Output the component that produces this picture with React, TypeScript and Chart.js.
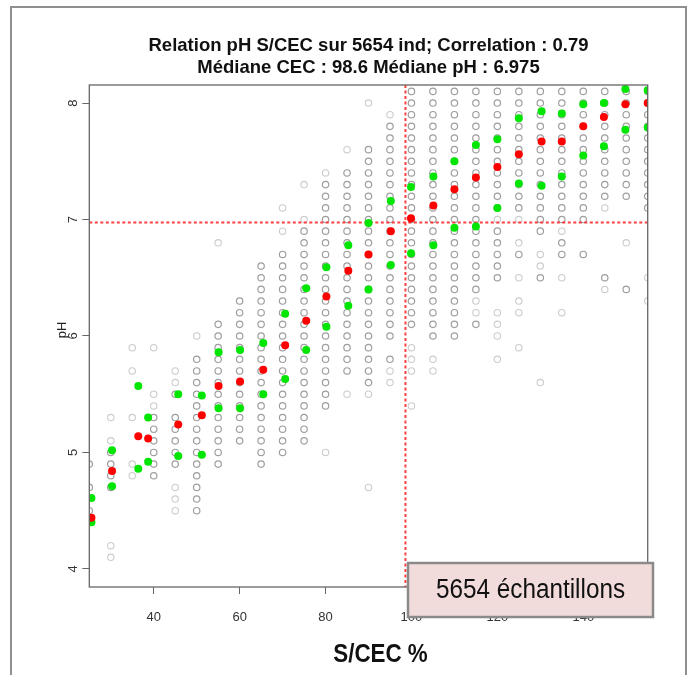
import React, { useEffect, useRef } from "react";
import { Chart, registerables } from "chart.js";

Chart.register(...registerables);

// ---------- data ----------
const sampleCount = 5654;
const correlation = 0.79;
const medianCEC = 98.6;
const medianPH = 6.975;

const xTickValues = [40, 60, 80, 100, 120, 140];
const yTickValues = [4, 5, 6, 7, 8];

// S/CEC classes (%) of the observation grid
const sCecClasses = [25, 30, 35, 40, 45, 50, 55, 60, 65, 70, 75, 80, 85, 90, 95, 100, 105, 110, 115, 120, 125, 130, 135, 140, 145, 150, 155];

// pH values observed in each S/CEC class (frequent cells)
const phObserved: number[][] = [
  [4.9, 4.7, 4.5, 4.4],
  [5.0, 4.9, 4.8, 4.7],
  [],
  [5.3, 5.2, 5.1, 5.0, 4.9, 4.8],
  [5.5, 5.3, 5.2, 5.1, 5.0, 4.9],
  [5.8, 5.7, 5.6, 5.5, 5.4, 5.3, 5.2, 5.1, 5.0, 4.9, 4.8, 4.7, 4.6, 4.5],
  [6.1, 6.0, 5.9, 5.8, 5.7, 5.6, 5.5, 5.4, 5.3, 5.2, 5.1, 5.0, 4.9],
  [6.3, 6.2, 6.1, 6.0, 5.9, 5.8, 5.7, 5.6, 5.5, 5.4, 5.3, 5.2, 5.1],
  [6.6, 6.5, 6.4, 6.3, 6.2, 6.1, 6.0, 5.9, 5.8, 5.7, 5.6, 5.5, 5.4, 5.3, 5.2, 5.1, 5.0, 4.9],
  [6.7, 6.6, 6.5, 6.4, 6.3, 6.2, 6.1, 6.0, 5.9, 5.8, 5.7, 5.6, 5.5, 5.4, 5.3, 5.2, 5.1, 5.0],
  [6.9, 6.8, 6.7, 6.6, 6.5, 6.4, 6.3, 6.2, 6.1, 6.0, 5.9, 5.8, 5.7, 5.6, 5.5, 5.4, 5.3, 5.2, 5.1],
  [7.3, 7.2, 7.1, 7.0, 6.9, 6.8, 6.7, 6.6, 6.5, 6.4, 6.3, 6.2, 6.1, 6.0, 5.9, 5.8, 5.7, 5.6, 5.5, 5.4],
  [7.4, 7.3, 7.2, 7.1, 7.0, 6.9, 6.8, 6.7, 6.6, 6.5, 6.4, 6.3, 6.2, 6.1, 6.0, 5.9, 5.8, 5.7],
  [7.6, 7.5, 7.4, 7.3, 7.2, 7.1, 7.0, 6.9, 6.8, 6.7, 6.6, 6.5, 6.4, 6.3, 6.2, 6.1, 6.0, 5.9, 5.8, 5.7, 5.6],
  [7.8, 7.7, 7.6, 7.5, 7.4, 7.3, 7.2, 7.1, 7.0, 6.9, 6.8, 6.7, 6.6, 6.5, 6.4, 6.3, 6.2, 6.1, 6.0, 5.8],
  [8.1, 8.0, 7.9, 7.8, 7.7, 7.6, 7.5, 7.4, 7.3, 7.2, 7.1, 7.0, 6.9, 6.8, 6.7, 6.6, 6.5, 6.4, 6.3, 6.2, 6.1],
  [8.1, 8.0, 7.9, 7.8, 7.7, 7.6, 7.5, 7.4, 7.3, 7.2, 7.1, 7.0, 6.9, 6.8, 6.7, 6.6, 6.5, 6.4, 6.3, 6.2, 6.1, 6.0],
  [8.1, 8.0, 7.9, 7.8, 7.7, 7.6, 7.5, 7.4, 7.3, 7.2, 7.1, 7.0, 6.9, 6.8, 6.7, 6.6, 6.5, 6.4, 6.3, 6.2, 6.1, 6.0],
  [8.1, 8.0, 7.9, 7.8, 7.7, 7.6, 7.5, 7.4, 7.3, 7.2, 7.1, 7.0, 6.9, 6.8, 6.7, 6.6, 6.5, 6.4, 6.1],
  [8.1, 8.0, 7.9, 7.8, 7.7, 7.6, 7.5, 7.4, 7.3, 7.2, 7.1, 6.9, 6.8, 6.7, 6.6, 6.5],
  [8.1, 8.0, 7.9, 7.8, 7.7, 7.6, 7.5, 7.4, 7.3, 7.2, 7.1, 6.7],
  [8.1, 8.0, 7.9, 7.8, 7.7, 7.6, 7.5, 7.4, 7.3, 7.2, 7.1, 7.0, 6.9, 6.5],
  [8.1, 8.0, 7.9, 7.8, 7.7, 7.6, 7.5, 7.4, 7.3, 7.2, 7.1, 7.0, 6.8, 6.7],
  [8.1, 8.0, 7.9, 7.8, 7.7, 7.6, 7.5, 7.4, 7.3, 7.2, 7.1, 7.0, 6.7],
  [8.1, 8.0, 7.9, 7.8, 7.7, 7.6, 7.5, 7.4, 7.3, 7.2, 6.5],
  [8.1, 8.0, 7.9, 7.8, 7.7, 7.6, 7.5, 7.4, 7.3, 7.2, 6.4],
  [8.1, 8.0, 7.9, 7.8, 7.7, 7.6, 7.5, 7.4, 7.3, 7.2, 7.1],
];

// pH values observed rarely in each S/CEC class (faint cells)
const phRare: number[][] = [
  [],
  [5.3, 5.1, 4.2, 4.1],
  [5.9, 5.7, 5.3, 4.9, 4.8],
  [5.9, 5.5, 5.4],
  [5.7, 5.6, 4.7, 4.6, 4.5],
  [6.0],
  [6.8],
  [],
  [],
  [7.1, 6.9],
  [7.3, 7.0],
  [7.4, 5.0],
  [7.6, 5.5],
  [8.0, 5.5, 4.7],
  [7.9, 5.7, 5.6],
  [5.9, 5.8, 5.7, 5.4],
  [5.8, 5.7],
  [],
  [6.3, 6.2],
  [7.0, 6.2, 6.1, 6.0, 5.8],
  [7.0, 6.8, 6.5, 6.3, 6.2, 5.9],
  [6.7, 6.6, 5.6],
  [6.9, 6.5, 6.2],
  [],
  [7.1, 6.4],
  [6.8],
  [6.5, 6.3],
];

// per-class statistics (mean S/CEC of the class, median and quartiles of pH)
const statSCec = [25.5, 30.3, 36.4, 38.7, 45.7, 51.2, 55.1, 60.1, 65.5, 70.6, 75.5, 80.2, 85.3, 90.0, 95.2, 99.9, 105.1, 110, 115, 120, 125, 130.3, 135, 140, 144.8, 149.8, 155];
const phMedian = [4.44, 4.84, 5.14, 5.12, 5.24, 5.32, 5.57, 5.61, 5.71, 5.92, 6.13, 6.34, 6.56, 6.70, 6.90, 7.01, 7.12, 7.26, 7.36, 7.45, 7.56, 7.67, 7.67, 7.80, 7.88, 7.99, 8.00];
const phQ1 = [4.40, 4.71, 4.86, 4.92, 4.97, 4.98, 5.38, 5.38, 5.50, 5.63, 5.88, 6.08, 6.26, 6.40, 6.61, 6.71, 6.78, 6.93, 6.94, 7.10, 7.31, 7.29, 7.37, 7.55, 7.63, 7.77, 7.79];
const phQ3 = [4.61, 5.02, 5.57, 5.30, 5.50, 5.49, 5.86, 5.88, 5.94, 6.19, 6.41, 6.59, 6.78, 6.97, 7.16, 7.28, 7.37, 7.50, 7.64, 7.69, 7.87, 7.93, 7.91, 7.99, 8.00, 8.12, 8.11];

// ---------- helpers ----------
const FONT = '"Liberation Sans", Arial, Helvetica, sans-serif';

function gridPoints(lists: number[][]) {
  const pts: { x: number; y: number }[] = [];
  lists.forEach((vals, i) => vals.forEach((v) => pts.push({ x: sCecClasses[i], y: v })));
  return pts;
}
function statPoints(vals: number[]) {
  return vals.map((v, i) => ({ x: statSCec[i], y: v }));
}

const GREY_INDEX = 3;

const decorPlugin = {
  id: "decor",
  beforeDraw(chart: any) {
    const { ctx, width, height } = chart;
    ctx.save();
    ctx.fillStyle = "#ffffff";
    ctx.fillRect(0, 0, width, height);
    ctx.restore();
  },
  afterDatasetDraw(chart: any, args: any) {
    if (args.index !== GREY_INDEX) return;
    const { ctx, chartArea } = chart;
    const xs = chart.scales.x;
    const ys = chart.scales.y;
    const px = xs.getPixelForValue(medianCEC);
    const py = ys.getPixelForValue(medianPH);
    ctx.save();
    ctx.strokeStyle = "rgba(255,30,30,0.85)";
    ctx.lineWidth = 2;
    ctx.setLineDash([3, 2.5]);
    ctx.beginPath();
    ctx.moveTo(chartArea.left, py);
    ctx.lineTo(chartArea.right, py);
    ctx.moveTo(px, chartArea.top);
    ctx.lineTo(px, chartArea.bottom);
    ctx.stroke();
    ctx.restore();
  },
  afterDraw(chart: any) {
    const { ctx, chartArea } = chart;
    const xs = chart.scales.x;
    const ys = chart.scales.y;
    ctx.save();

    // plot box
    ctx.strokeStyle = "#666666";
    ctx.lineWidth = 1.3;
    ctx.strokeRect(chartArea.left, chartArea.top, chartArea.right - chartArea.left, chartArea.bottom - chartArea.top);

    // x tick labels
    ctx.fillStyle = "#333333";
    ctx.font = `13px ${FONT}`;
    ctx.textAlign = "center";
    ctx.textBaseline = "middle";
    xTickValues.forEach((v) => {
      ctx.fillText(String(v), xs.getPixelForValue(v), chartArea.bottom + 30);
    });

    // y tick labels (rotated, as in R)
    yTickValues.forEach((v) => {
      ctx.save();
      ctx.translate(chartArea.left - 16, ys.getPixelForValue(v));
      ctx.rotate(-Math.PI / 2);
      ctx.fillText(String(v), 0, 0);
      ctx.restore();
    });

    // y axis title
    ctx.save();
    ctx.translate(chartArea.left - 27, (chartArea.top + chartArea.bottom) / 2 - 6);
    ctx.rotate(-Math.PI / 2);
    ctx.font = `13px ${FONT}`;
    ctx.fillStyle = "#222222";
    ctx.fillText("pH", 0, 0);
    ctx.restore();

    // titles
    const cx = (chartArea.left + chartArea.right) / 2;
    ctx.fillStyle = "#111111";
    ctx.font = `bold 18.5px ${FONT}`;
    ctx.fillText(`Relation pH S/CEC sur ${sampleCount} ind; Correlation : ${correlation}`, cx, 46);
    ctx.fillText(`Médiane CEC : ${medianCEC} Médiane pH : ${medianPH}`, cx, 68);

    // x axis title (condensed bold)
    ctx.save();
    ctx.translate(cx + 12, 655);
    ctx.scale(0.86, 1);
    ctx.font = `bold 26px ${FONT}`;
    ctx.fillText("S/CEC %", 0, 0);
    ctx.restore();

    // sample-count box
    const bx = 408, by = 563, bw = 245, bh = 54;
    ctx.fillStyle = "#f2dcdb";
    ctx.fillRect(bx, by, bw, bh);
    ctx.strokeStyle = "#8a8a8a";
    ctx.lineWidth = 2.5;
    ctx.strokeRect(bx, by, bw, bh);
    ctx.save();
    ctx.translate(bx + bw / 2, by + 28);
    ctx.scale(0.9, 1);
    ctx.fillStyle = "#111111";
    ctx.font = `27px ${FONT}`;
    ctx.fillText(`${sampleCount} échantillons`, 0, 0);
    ctx.restore();

    // outer frame
    ctx.strokeStyle = "#8f8f8f";
    ctx.lineWidth = 2;
    ctx.beginPath();
    ctx.moveTo(11, 690);
    ctx.lineTo(11, 7);
    ctx.lineTo(686, 7);
    ctx.lineTo(686, 690);
    ctx.stroke();

    ctx.restore();
  },
};

export default function App() {
  const ref = useRef<HTMLCanvasElement | null>(null);

  useEffect(() => {
    if (!ref.current) return;
    const green = "#00e600";
    const chart = new Chart(ref.current, {
      type: "scatter",
      data: {
        datasets: [
          { label: "Médiane", data: statPoints(phMedian), pointRadius: 4, pointBackgroundColor: "#ff0000", pointBorderWidth: 0, clip: 0 } as any,
          { label: "Q1", data: statPoints(phQ1), pointRadius: 4, pointBackgroundColor: green, pointBorderWidth: 0, clip: 0 } as any,
          { label: "Q3", data: statPoints(phQ3), pointRadius: 4, pointBackgroundColor: green, pointBorderWidth: 0, clip: 0 } as any,
          { label: "obs", data: gridPoints(phObserved), pointRadius: 3.2, pointBackgroundColor: "rgba(0,0,0,0)", pointBorderColor: "rgba(120,120,120,0.72)", pointBorderWidth: 1.2, clip: 0 } as any,
          { label: "rare", data: gridPoints(phRare), pointRadius: 3.2, pointBackgroundColor: "rgba(0,0,0,0)", pointBorderColor: "rgba(170,170,170,0.6)", pointBorderWidth: 1.1, clip: 0 } as any,
        ],
      },
      options: {
        responsive: false,
        animation: false,
        events: [],
        layout: { padding: { top: 85, right: 45.3, left: 0, bottom: 0 } },
        plugins: { legend: { display: false }, title: { display: false }, tooltip: { enabled: false } },
        scales: {
          x: {
            type: "linear",
            min: 25,
            max: 155,
            afterBuildTicks: (s: any) => { s.ticks = xTickValues.map((v) => ({ value: v })); },
            afterFit: (s: any) => { s.height = 88; },
            ticks: { display: false },
            grid: { display: true, drawOnChartArea: false, drawTicks: true, tickLength: 7, color: "#666666", lineWidth: 1 },
            border: { display: false },
          },
          y: {
            type: "linear",
            min: 3.845,
            max: 8.155,
            afterBuildTicks: (s: any) => { s.ticks = yTickValues.map((v) => ({ value: v })); },
            afterFit: (s: any) => { s.width = 89.3; },
            ticks: { display: false },
            grid: { display: true, drawOnChartArea: false, drawTicks: true, tickLength: 7, color: "#666666", lineWidth: 1 },
            border: { display: false },
          },
        },
      } as any,
      plugins: [decorPlugin],
    });
    return () => chart.destroy();
  }, []);

  return (
    <div style={{ position: "absolute", left: 0, top: 0, width: 693, height: 675 }}>
      <canvas ref={ref} width={693} height={675} style={{ display: "block" }} />
    </div>
  );
}
